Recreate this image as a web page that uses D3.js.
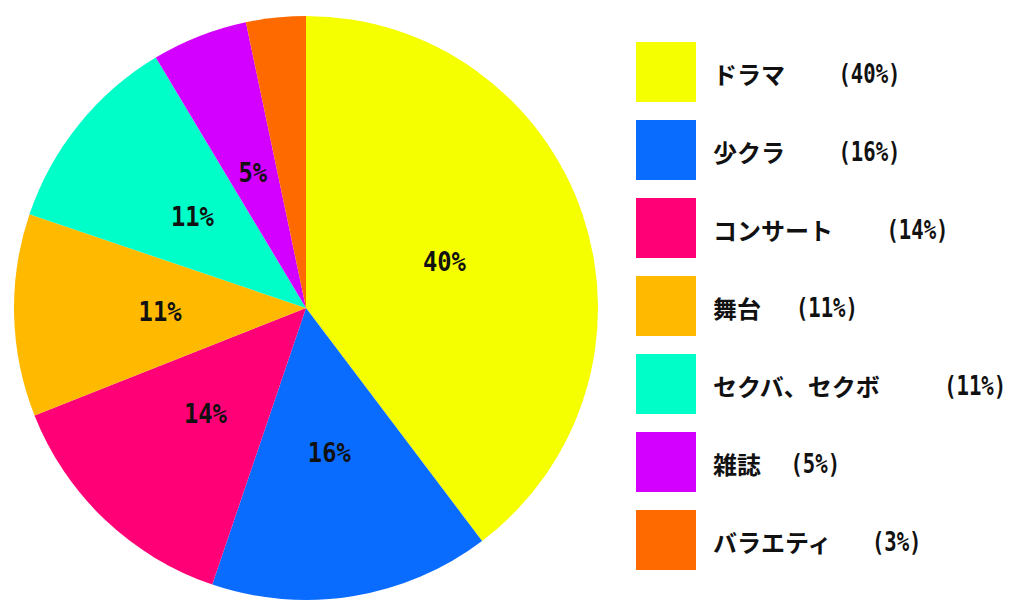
<!DOCTYPE html>
<html>
<head>
<meta charset="utf-8">
<script src="https://cdn.jsdelivr.net/npm/d3@7/dist/d3.min.js"></script>
<style>
  body { margin: 0; background: #fff; }
  text { font-family: "Noto Sans CJK JP", "Noto Sans", sans-serif; font-weight: bold; fill: #111; }
  .mono { font-family: "DejaVu Sans Mono", "Liberation Mono", monospace; }
</style>
</head>
<body>
<div id="vis"></div>
<script>
// data
var categories = ['ドラマ', '少クラ', 'コンサート', '舞台', 'セクバ、セクボ', '雑誌', 'バラエティ'];
var shares = [39.7, 15.5, 13.8, 11.2, 11.2, 5.3, 3.3];
var pctLabels = ['40%', '16%', '14%', '11%', '11%', '5%', '3%'];
var gaps = ['\u3000\u3000 ', '\u3000\u3000 ', '\u3000\u3000 ', '\u3000  ', '\u3000\u3000   ', '\u3000 ', '\u3000   '];
var colors = ['#f5ff00', '#0a6cff', '#ff0077', '#ffba00', '#00ffc8', '#d400ff', '#ff6a00'];

var width = 1024;
var height = 607;
var cx = 306, cy = 308, radius = 292;

var svg = d3.select('#vis').append('svg')
  .attr('width', width)
  .attr('height', height);

var data = categories.map(function (c, i) {
  return { name: c, value: shares[i], label: pctLabels[i], color: colors[i], gap: gaps[i] };
});

var pie = d3.pie()
  .sort(null)
  .value(function (d) { return d.value; });

var arc = d3.arc().innerRadius(0).outerRadius(radius);
var labelArc = d3.arc().innerRadius(radius / 2).outerRadius(radius / 2);

var g = svg.append('g')
  .attr('transform', 'translate(' + cx + ',' + cy + ')');

var arcs = pie(data);

g.selectAll('path')
  .data(arcs)
  .enter()
  .append('path')
  .attr('d', arc)
  .attr('fill', function (d) { return d.data.color; });

// labels inside slices, the smallest one gets none
// (condensed mono look, squeezed with textLength)
g.selectAll('.slice-label')
  .data(arcs.filter(function (d) { return d.data.value > 4; }))
  .enter()
  .append('text')
  .attr('class', 'slice-label mono')
  .attr('transform', function (d) { return 'translate(' + labelArc.centroid(d) + ')'; })
  .attr('text-anchor', 'middle')
  .attr('dominant-baseline', 'central')
  .attr('textLength', function (d) { return d.data.label.length * 14.3; })
  .attr('lengthAdjust', 'spacingAndGlyphs')
  .style('font-size', '27px')
  .text(function (d) { return d.data.label; });

// legend
var legend = svg.append('g')
  .attr('transform', 'translate(636,42)');

var rows = legend.selectAll('.row')
  .data(data)
  .enter()
  .append('g')
  .attr('class', 'row')
  .attr('transform', function (d, i) { return 'translate(0,' + (i * 78) + ')'; });

rows.append('rect')
  .attr('width', 60)
  .attr('height', 60)
  .attr('fill', function (d) { return d.color; });

rows.append('text')
  .attr('class', 'name')
  .attr('x', 77)
  .attr('y', 31)
  .attr('dominant-baseline', 'central')
  .attr('xml:space', 'preserve')
  .style('white-space', 'pre')
  .style('font-size', '24px')
  .text(function (d) { return d.name + d.gap; });

rows.each(function (d) {
  var row = d3.select(this);
  var w = row.select('.name').node().getComputedTextLength();
  var s = '(' + d.label + ')';
  row.append('text')
    .attr('class', 'mono')
    .attr('x', 77 + w)
    .attr('y', 31)
    .attr('dominant-baseline', 'central')
    .attr('textLength', s.length * 12.4)
    .attr('lengthAdjust', 'spacingAndGlyphs')
    .style('font-size', '27px')
    .text(s);
});
</script>
</body>
</html>
